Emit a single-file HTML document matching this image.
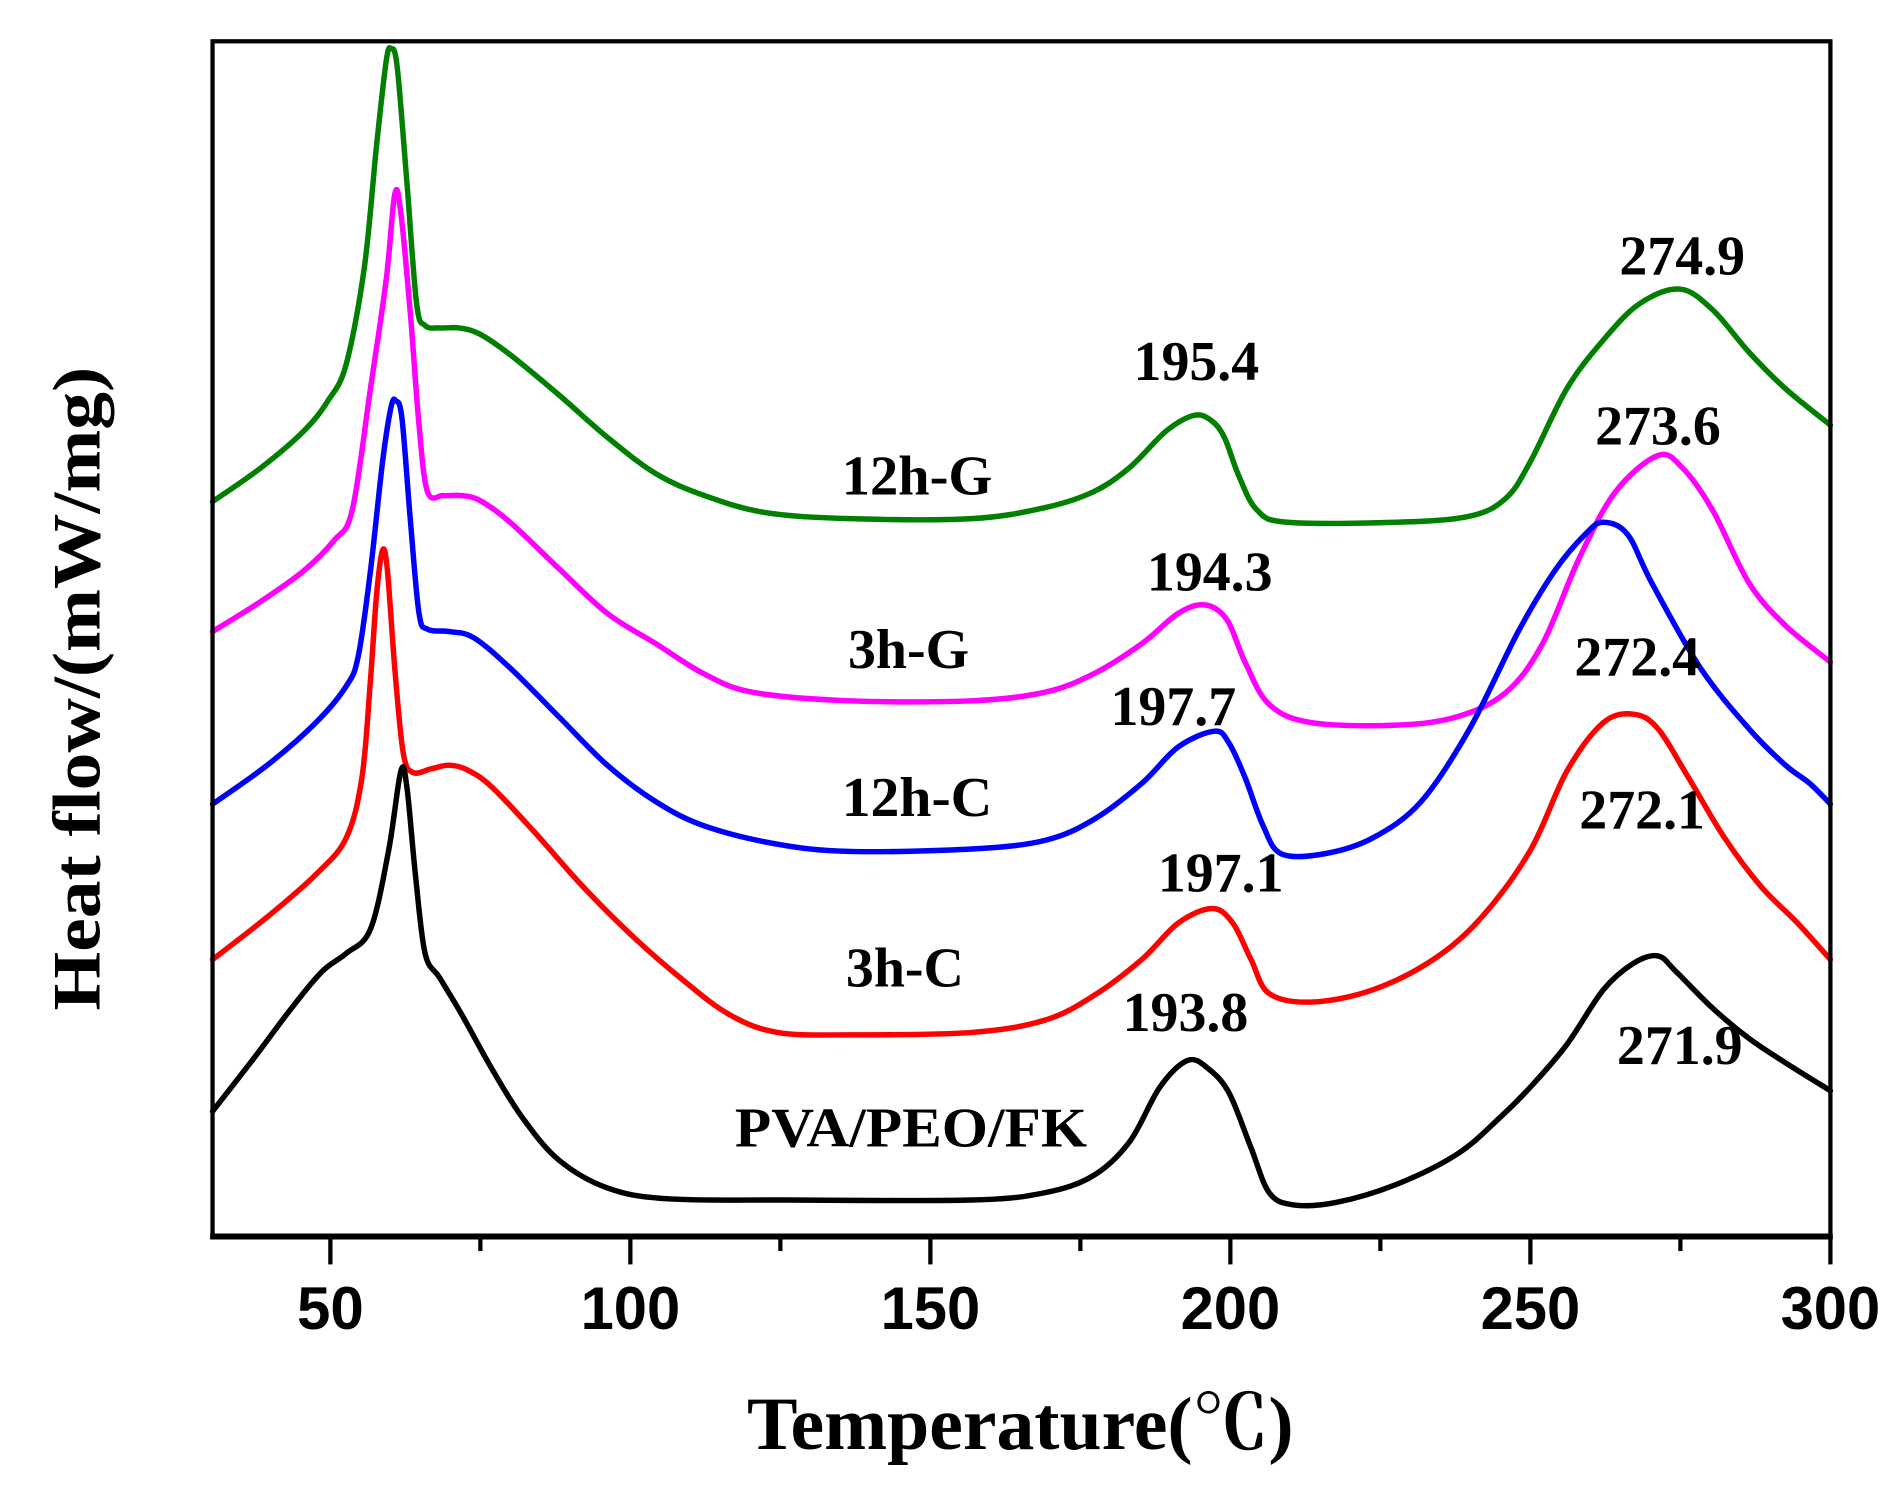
<!DOCTYPE html>
<html><head><meta charset="utf-8"><style>
html,body{margin:0;padding:0;background:#fff;}
svg{display:block;}
</style></head><body>
<svg id="s" width="1904" height="1493" viewBox="0 0 1567.6 1229.2" preserveAspectRatio="none" xmlns="http://www.w3.org/2000/svg">
<rect x="0" y="0" width="1567.6" height="1229.2" fill="#fff"/>
<g id="curves" fill="none" stroke-width="4.5" stroke-linejoin="round" stroke-linecap="round"></g>
<rect x="175" y="34" width="1332" height="984" fill="none" stroke="#000" stroke-width="3.5"/>
<line x1="173" y1="1018" x2="1509" y2="1018" stroke="#000" stroke-width="5"/>
<g stroke="#000" stroke-width="3.5">
<line x1="272" y1="1018" x2="272" y2="1041"/>
<line x1="519" y1="1018" x2="519" y2="1041"/>
<line x1="766" y1="1018" x2="766" y2="1041"/>
<line x1="1013" y1="1018" x2="1013" y2="1041"/>
<line x1="1260" y1="1018" x2="1260" y2="1041"/>
<line x1="1507" y1="1018" x2="1507" y2="1041"/>
<line x1="395.5" y1="1018" x2="395.5" y2="1030"/>
<line x1="642.5" y1="1018" x2="642.5" y2="1030"/>
<line x1="889.5" y1="1018" x2="889.5" y2="1030"/>
<line x1="1136.5" y1="1018" x2="1136.5" y2="1030"/>
<line x1="1383.5" y1="1018" x2="1383.5" y2="1030"/>
</g>
<g font-family="Liberation Sans, sans-serif" font-weight="bold" font-size="50" text-anchor="middle" fill="#000">
<text x="272" y="1094" textLength="55" lengthAdjust="spacingAndGlyphs">50</text>
<text x="519" y="1094" textLength="82" lengthAdjust="spacingAndGlyphs">100</text>
<text x="766" y="1094" textLength="82" lengthAdjust="spacingAndGlyphs">150</text>
<text x="1013" y="1094" textLength="82" lengthAdjust="spacingAndGlyphs">200</text>
<text x="1260" y="1094" textLength="82" lengthAdjust="spacingAndGlyphs">250</text>
<text x="1507" y="1094" textLength="82" lengthAdjust="spacingAndGlyphs">300</text>
</g>
<g font-family="Liberation Serif, 'Noto Serif CJK SC', serif" font-weight="bold" fill="#000">
<text x="840" y="1193" font-size="62" text-anchor="middle" textLength="450" lengthAdjust="spacingAndGlyphs">Temperature(℃)</text>
<text transform="translate(82,567) rotate(-90)" font-size="56" text-anchor="middle" textLength="530" lengthAdjust="spacingAndGlyphs">Heat flow/(mW/mg)</text>
</g>
<g font-family="Liberation Serif, serif" font-weight="bold" font-size="46" text-anchor="middle" fill="#000">
<text x="1385" y="226">274.9</text>
<text x="985" y="313">195.4</text>
<text x="1365" y="366">273.6</text>
<text x="755" y="407" textLength="124" lengthAdjust="spacingAndGlyphs">12h-G</text>
<text x="996" y="486">194.3</text>
<text x="748" y="550">3h-G</text>
<text x="1348" y="556">272.4</text>
<text x="966" y="597">197.7</text>
<text x="755" y="672" textLength="124" lengthAdjust="spacingAndGlyphs">12h-C</text>
<text x="1005" y="734">197.1</text>
<text x="1352" y="682">272.1</text>
<text x="745" y="812">3h-C</text>
<text x="976" y="849">193.8</text>
<text x="1383" y="876">271.9</text>
<text x="750" y="944" textLength="290" lengthAdjust="spacingAndGlyphs">PVA/PEO/FK</text>
</g>
</svg>
<script>
var data={
"#007f00":[[175,413],[215,385],[250,355],[270,330],[285,300],[300,220],[310,120],[318,50],[322,40],[327,55],[335,150],[343,250],[350,268],[362,270],[378,270],[395,275],[420,292],[460,325],[500,360],[540,390],[580,408],[630,422],[700,427],[800,427],[860,418],[900,405],[930,385],[960,355],[983,342],[997,346],[1008,360],[1020,392],[1035,420],[1060,430],[1150,430],[1210,425],[1240,410],[1260,380],[1290,320],[1320,280],[1350,250],[1383,238],[1410,255],[1440,290],[1470,320],[1507,350]],
"#ff00ff":[[175,520],[215,495],[250,470],[275,445],[290,420],[305,320],[318,230],[325,160],[330,175],[338,260],[345,350],[352,405],[365,408],[380,408],[395,412],[420,430],[460,468],[500,505],[540,530],[580,555],[620,570],[700,577],[800,577],[860,570],[900,555],[940,530],[970,505],[992,498],[1010,510],[1025,545],[1045,580],[1080,595],[1150,597],[1200,590],[1240,570],[1270,530],[1300,460],[1330,405],[1365,375],[1385,385],[1410,420],[1440,480],[1470,515],[1507,545]],
"#0000ff":[[175,662],[220,630],[260,595],[285,565],[295,540],[305,470],[315,380],[322,335],[326,330],[331,345],[338,430],[345,505],[352,518],[370,520],[390,525],[420,550],[460,590],[500,630],[540,660],[580,680],[640,695],[700,701],[800,699],[860,692],[900,675],[940,645],[970,615],[1000,602],[1012,612],[1025,640],[1040,680],[1055,703],[1090,703],[1130,690],[1170,660],[1210,600],[1250,520],[1280,470],[1305,440],[1320,430],[1340,440],[1360,480],[1400,550],[1440,600],[1470,630],[1490,645],[1507,662]],
"#ff0000":[[175,790],[220,755],[260,720],[285,690],[298,640],[305,560],[310,490],[315,453],[319,470],[325,550],[332,620],[340,636],[355,633],[370,630],[385,634],[405,648],[440,685],[480,730],[520,770],[560,805],[600,835],[640,850],[700,852],[800,850],[860,840],[900,820],[940,790],[970,760],[998,748],[1015,760],[1030,790],[1045,818],[1080,825],[1130,815],[1180,790],[1220,755],[1260,700],[1290,635],[1320,595],[1345,588],[1365,600],[1390,640],[1420,690],[1450,730],[1480,760],[1507,790]],
"#000000":[[175,915],[210,870],[240,830],[265,800],[285,785],[305,765],[320,700],[330,635],[335,648],[342,720],[350,785],[362,805],[380,835],[405,880],[430,920],[460,955],[500,978],[550,987],[650,988],[800,988],[860,982],[900,968],[930,940],[955,895],[978,873],[995,880],[1012,900],[1030,945],[1045,982],[1065,992],[1100,990],[1150,975],[1200,950],[1235,920],[1260,895],[1290,860],[1320,815],[1345,793],[1365,787],[1380,800],[1410,830],[1440,855],[1470,875],[1507,898]]
};
var g=document.getElementById('curves'),ns='http://www.w3.org/2000/svg';
for(var c in data){var p=data[c],d='M'+p[0][0]+','+p[0][1];
for(var i=0;i<p.length-1;i++){var p0=p[i-1]||p[i],p1=p[i],p2=p[i+1],p3=p[i+2]||p2;
d+=' C'+(p1[0]+(p2[0]-p0[0])/6)+','+(p1[1]+(p2[1]-p0[1])/6)+' '+(p2[0]-(p3[0]-p1[0])/6)+','+(p2[1]-(p3[1]-p1[1])/6)+' '+p2[0]+','+p2[1];}
var e=document.createElementNS(ns,'path');e.setAttribute('d',d);e.setAttribute('stroke',c);g.appendChild(e);}
</script>
</body></html>
